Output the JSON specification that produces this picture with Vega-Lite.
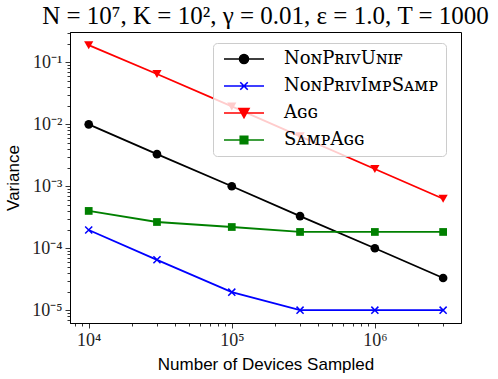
{
  "$schema": "https://vega.github.io/schema/vega-lite/v6.json",
  "width": 391,
  "height": 291,
  "padding": {"left": 4, "top": 4, "right": 5, "bottom": 5},
  "title": {
    "text": "N = 10⁷, K = 10², γ = 0.01, ε = 1.0, T = 1000",
    "font": "Liberation Serif",
    "fontSize": 25,
    "fontWeight": "normal",
    "color": "black",
    "anchor": "middle",
    "offset": 3
  },
  "data": {
    "values": [
      {"devices": 10000, "variance": 0.01, "series": "NonPrivUnif"},
      {"devices": 30000, "variance": 0.0033, "series": "NonPrivUnif"},
      {"devices": 100000, "variance": 0.001, "series": "NonPrivUnif"},
      {"devices": 300000, "variance": 0.00033, "series": "NonPrivUnif"},
      {"devices": 1000000, "variance": 0.0001, "series": "NonPrivUnif"},
      {"devices": 3000000, "variance": 0.000033, "series": "NonPrivUnif"},
      {"devices": 10000, "variance": 0.000197, "series": "NonPrivImpSamp"},
      {"devices": 30000, "variance": 0.000065, "series": "NonPrivImpSamp"},
      {"devices": 100000, "variance": 0.0000195, "series": "NonPrivImpSamp"},
      {"devices": 300000, "variance": 0.00001, "series": "NonPrivImpSamp"},
      {"devices": 1000000, "variance": 0.00001, "series": "NonPrivImpSamp"},
      {"devices": 3000000, "variance": 0.00001, "series": "NonPrivImpSamp"},
      {"devices": 10000, "variance": 0.19, "series": "Agg"},
      {"devices": 30000, "variance": 0.065, "series": "Agg"},
      {"devices": 100000, "variance": 0.0195, "series": "Agg"},
      {"devices": 300000, "variance": 0.0064, "series": "Agg"},
      {"devices": 1000000, "variance": 0.0019, "series": "Agg"},
      {"devices": 3000000, "variance": 0.00063, "series": "Agg"},
      {"devices": 10000, "variance": 0.0004, "series": "SampAgg"},
      {"devices": 30000, "variance": 0.000265, "series": "SampAgg"},
      {"devices": 100000, "variance": 0.00022, "series": "SampAgg"},
      {"devices": 300000, "variance": 0.000183, "series": "SampAgg"},
      {"devices": 1000000, "variance": 0.000183, "series": "SampAgg"},
      {"devices": 3000000, "variance": 0.000183, "series": "SampAgg"}
    ]
  },
  "encoding": {
    "x": {"field": "devices", "type": "quantitative", "scale": {"type": "log", "domain": [7400, 4000000], "nice": false}},
    "y": {"field": "variance", "type": "quantitative", "scale": {"type": "log", "domain": [0.0000062, 0.31], "nice": false}},
    "color": {"field": "series", "type": "nominal", "scale": {"domain": ["NonPrivUnif", "NonPrivImpSamp", "Agg", "SampAgg"], "range": ["#000000", "#0000ff", "#ff0000", "#008000"]}}
  },
  "layer": [
    {
      "mark": {"type": "line", "strokeWidth": 1.8},
      "encoding": {
        "x": {
          "field": "devices", "type": "quantitative",
          "axis": {
            "orient": "bottom",
            "values": [10000, 100000, 1000000],
            "labelExpr": "round(log(datum.value)/LN10) == 4 ? '10⁴' : round(log(datum.value)/LN10) == 5 ? '10⁵' : '10⁶'",
            "title": "Number of Devices Sampled",
            "titlePadding": 7,
            "tickSize": 5,
            "grid": false
          }
        },
        "y": {
          "field": "variance", "type": "quantitative",
          "axis": {
            "orient": "left",
            "values": [0.00001, 0.0001, 0.001, 0.01, 0.1],
            "labelExpr": "round(log(datum.value)/LN10) == -5 ? '10⁻⁵' : round(log(datum.value)/LN10) == -4 ? '10⁻⁴' : round(log(datum.value)/LN10) == -3 ? '10⁻³' : round(log(datum.value)/LN10) == -2 ? '10⁻²' : '10⁻¹'",
            "title": "Variance",
            "titlePadding": 9,
            "tickSize": 5,
            "grid": false
          }
        },
        "color": {
          "field": "series", "type": "nominal",
          "legend": {
            "title": null,
            "orient": "none",
            "legendX": 143,
            "legendY": 11,
            "padding": 7,
            "symbolSize": 100,
            "symbolStrokeWidth": 1.6,
            "labelOffset": 46,
            "rowPadding": 9,
            "labelFont": "DejaVu Serif",
            "labelFontSize": 18,
            "labelColor": "black",
            "fillColor": "rgba(255,255,255,0.8)",
            "strokeColor": "#cccccc",
            "cornerRadius": 4,
            "labelExpr": "datum.label == 'NonPrivUnif' ? 'NᴏɴPʀɪᴠUɴɪꜰ' : datum.label == 'NonPrivImpSamp' ? 'NᴏɴPʀɪᴠIᴍᴘSᴀᴍᴘ' : datum.label == 'Agg' ? 'Aɢɢ' : 'SᴀᴍᴘAɢɢ'",
            "encode": {
              "symbols": {
                "update": {
                  "shape": {"signal": "datum.value == 'NonPrivUnif' ? 'M-1,0H7M3.9,0A0.9,0.9 0 1,1 2.1,0A0.9,0.9 0 1,1 3.9,0Z' : datum.value == 'NonPrivImpSamp' ? 'M-1,0H7M2.25,-0.75L3.75,0.75M2.25,0.75L3.75,-0.75' : datum.value == 'Agg' ? 'M-1,0H7M2,-0.9L4,-0.9L3,0.9Z' : 'M-1,0H7M2.25,-0.75H3.75V0.75H2.25Z'"},
                  "fill": {"signal": "scale('color', datum.value)"},
                  "stroke": {"signal": "scale('color', datum.value)"},
                  "strokeWidth": {"value": 1.6},
                  "opacity": {"value": 1}
                }
              }
            }
          }
        }
      }
    },
    {
      "transform": [{"filter": "datum.series == 'NonPrivUnif'"}],
      "mark": {"type": "point", "shape": "circle", "filled": true, "size": 75, "opacity": 1},
      "encoding": {
        "x": {
          "field": "devices", "type": "quantitative",
          "axis": {
            "orient": "bottom",
            "values": [8000, 9000, 20000, 30000, 40000, 50000, 60000, 70000, 80000, 90000, 200000, 300000, 400000, 500000, 600000, 700000, 800000, 900000, 2000000, 3000000],
            "labels": false,
            "title": null,
            "tickSize": 3,
            "domain": false,
            "grid": false
          }
        },
        "y": {
          "field": "variance", "type": "quantitative",
          "axis": {
            "orient": "left",
            "values": [0.000007, 0.000008, 0.000009, 0.00002, 0.00003, 0.00004, 0.00005, 0.00006, 0.00007, 0.00008, 0.00009, 0.0002, 0.0003, 0.0004, 0.0005, 0.0006, 0.0007, 0.0008, 0.0009, 0.002, 0.003, 0.004, 0.005, 0.006, 0.007, 0.008, 0.009, 0.02, 0.03, 0.04, 0.05, 0.06, 0.07, 0.08, 0.09, 0.2, 0.3],
            "labels": false,
            "title": null,
            "tickSize": 3,
            "domain": false,
            "grid": false
          }
        }
      }
    },
    {
      "transform": [{"filter": "datum.series == 'NonPrivImpSamp'"}],
      "mark": {"type": "point", "shape": "M-1,-1L1,1M-1,1L1,-1", "filled": false, "size": 50, "strokeWidth": 1.5, "opacity": 1},
      "encoding": {"x": {"field": "devices", "type": "quantitative", "axis": null}, "y": {"field": "variance", "type": "quantitative", "axis": null}}
    },
    {
      "transform": [{"filter": "datum.series == 'Agg'"}],
      "mark": {"type": "point", "shape": "triangle-down", "filled": true, "size": 85, "opacity": 1},
      "encoding": {"x": {"field": "devices", "type": "quantitative", "axis": null}, "y": {"field": "variance", "type": "quantitative", "axis": null}}
    },
    {
      "transform": [{"filter": "datum.series == 'SampAgg'"}],
      "mark": {"type": "point", "shape": "square", "filled": true, "size": 60, "opacity": 1},
      "encoding": {"x": {"field": "devices", "type": "quantitative", "axis": null}, "y": {"field": "variance", "type": "quantitative", "axis": null}}
    }
  ],
  "resolve": {"axis": {"x": "independent", "y": "independent"}},
  "config": {
    "view": {"stroke": "black", "strokeWidth": 1},
    "axis": {
      "domainColor": "black",
      "tickColor": "black",
      "tickWidth": 0.8,
      "labelFont": "Liberation Serif",
      "labelFontSize": 18,
      "labelColor": "#222222",
      "titleFont": "Liberation Sans",
      "titleFontSize": 17,
      "titleFontWeight": "normal",
      "titleColor": "black",
      "labelPadding": 3
    }
  }
}
